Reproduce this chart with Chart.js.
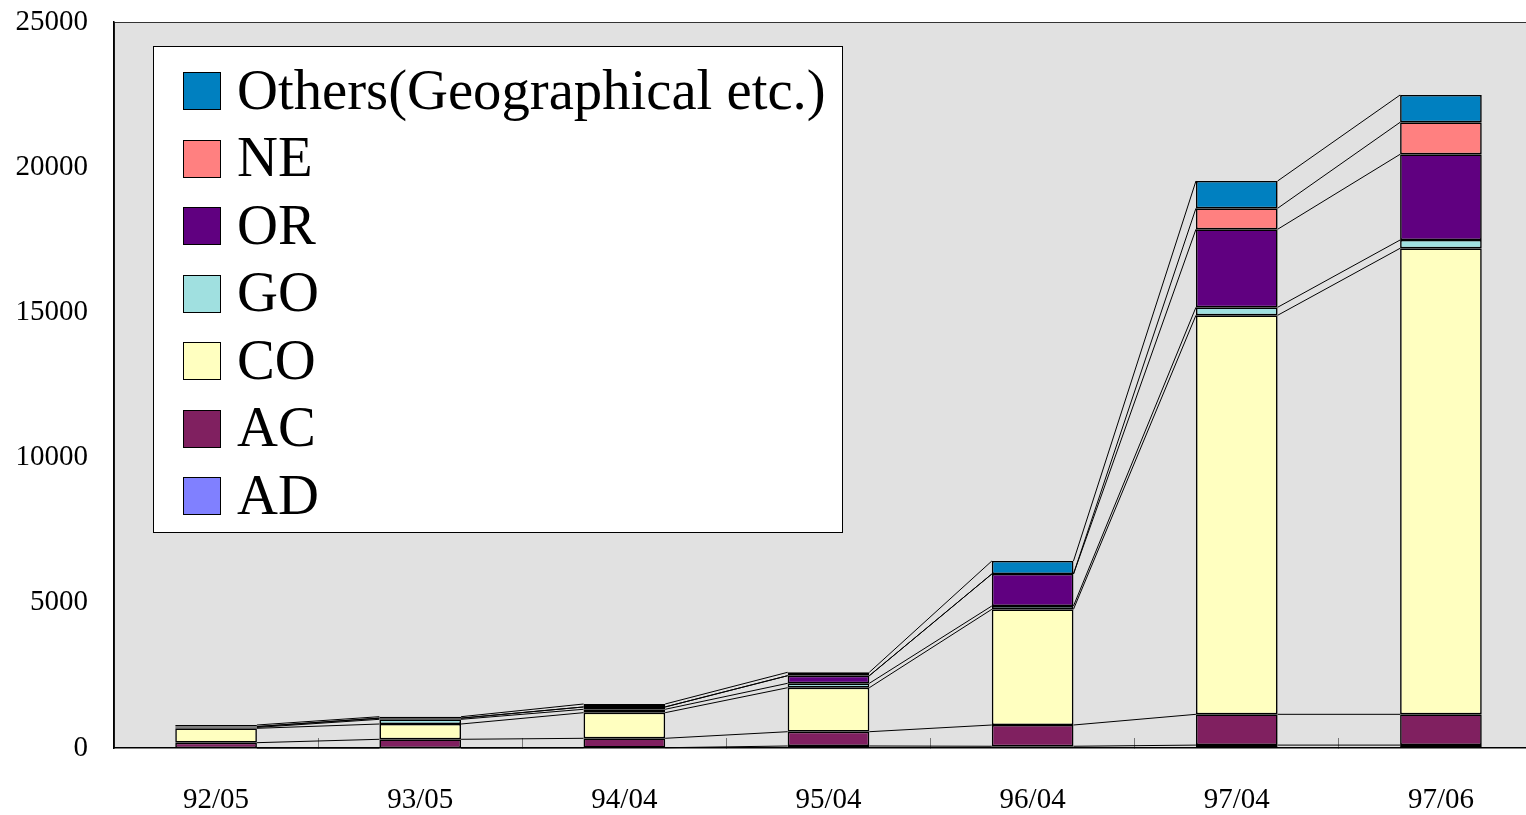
<!DOCTYPE html>
<html><head><meta charset="utf-8">
<script src="https://cdn.jsdelivr.net/npm/chart.js@4"></script>
<style>
html,body{margin:0;padding:0;overflow:hidden;background:#fff;width:1526px;height:815px}
#wrap{position:relative;width:1543px;height:815px}
#legend{position:absolute;left:153px;top:46px;width:688px;height:485px;background:#fff;border:1px solid #000;font-family:"Liberation Serif","Times New Roman",serif;font-size:56.7px;color:#000}
.row{position:absolute;left:29px;display:flex;align-items:center;height:60px;white-space:nowrap}
.sw{width:36px;height:36px;border:1px solid #000;margin-right:16px;flex:none}
</style></head>
<body><div id="wrap"><canvas id="c" width="1543" height="815"></canvas><div id="legend"></div></div>
<script>
const categories = ['92/05','93/05','94/04','95/04','96/04','97/04','97/06'];
const AD     = [0, 0, 10, 69, 60, 100, 100];
const AC     = [183, 300, 324, 492, 732, 1060, 1060];
const CO     = [495, 526, 882, 1515, 3984, 13740, 16047];
const GO     = [30, 162, 117, 152, 114, 276, 286];
const OR     = [30, 40, 80, 262, 1102, 2686, 2951];
const NE     = [0, 0, 0, 0, 0, 723, 1102];
const Others = [54, 50, 102, 117, 447, 940, 940];
const yTicks = [0, 5000, 10000, 15000, 20000, 25000];

const seriesNames  = ['AD','AC','CO','GO','OR','NE','Others(Geographical etc.)'];
const seriesData   = [AD, AC, CO, GO, OR, NE, Others];
const seriesColors = ['#8080ff','#802060','#ffffc0','#a0e0e0','#600080','#ff8080','#0080c0'];

const FONT = '"Liberation Serif","Times New Roman",serif';
Chart.defaults.color = '#000';

const plotBg = {
  id: 'plotBg',
  beforeDraw(chart) {
    const {ctx, chartArea: a} = chart;
    ctx.save();
    ctx.fillStyle = '#e1e1e1';
    ctx.fillRect(a.left, a.top, a.right - a.left, a.bottom - a.top);
    ctx.strokeStyle = '#333';
    ctx.lineWidth = 1;
    ctx.strokeRect(a.left + 0.5, a.top + 0.5, a.right - a.left - 1, a.bottom - a.top - 1);
    ctx.restore();
  }
};

const seriesLines = {
  id: 'seriesLines',
  afterDatasetsDraw(chart) {
    const ctx = chart.ctx;
    ctx.save();
    ctx.strokeStyle = '#000';
    ctx.lineWidth = 1;
    chart.data.datasets.forEach((ds, di) => {
      const meta = chart.getDatasetMeta(di);
      for (let i = 0; i < meta.data.length - 1; i++) {
        const a = meta.data[i], b = meta.data[i + 1];
        ctx.beginPath();
        ctx.moveTo(a.x + a.width / 2, a.y);
        ctx.lineTo(b.x - b.width / 2, b.y);
        ctx.stroke();
      }
    });
    ctx.restore();
  }
};

const chart = new Chart(document.getElementById('c'), {
  type: 'bar',
  data: {
    labels: categories,
    datasets: seriesNames.map((n, i) => ({
      label: n,
      data: seriesData[i],
      backgroundColor: seriesColors[i],
      borderColor: '#000',
      borderWidth: 1.6,
      borderSkipped: false,
      barPercentage: 0.4,
      categoryPercentage: 1.0
    }))
  },
  options: {
    responsive: false,
    animation: false,
    layout: {padding: {top: 22, left: 0, right: 0, bottom: 0}},
    plugins: {legend: {display: false}, tooltip: {enabled: false}},
    scales: {
      x: {
        stacked: true,
        offset: true,
        grid: {display: true, drawOnChartArea: false, drawTicks: true, tickLength: -10, color: '#777', offset: true},
        border: {display: true, color: '#000', width: 1.5},
        ticks: {font: {family: FONT, size: 29}, color: '#000', padding: 45, maxRotation: 0},
        afterFit(s) { s.height = 67; s.paddingLeft = 0; s.paddingRight = 0; }
      },
      y: {
        stacked: true,
        min: 0, max: 25000,
        grid: {display: false, drawTicks: false},
        border: {display: true, color: '#000', width: 1.5},
        ticks: {font: {family: FONT, size: 29}, color: '#000', padding: 26, callback: v => String(v)},
        afterBuildTicks(s) { s.ticks = yTicks.map(v => ({value: v})); },
        afterFit(s) { s.width = 114; s.paddingTop = 0; s.paddingBottom = 0; }
      }
    }
  },
  plugins: [plotBg, seriesLines]
});

const leg = document.getElementById('legend');
chart.data.datasets.slice().reverse().forEach((ds, i) => {
  const row = document.createElement('div');
  row.className = 'row';
  row.style.top = (14 + i * 67.5) + 'px';
  const sw = document.createElement('div');
  sw.className = 'sw';
  sw.style.background = ds.backgroundColor;
  const tx = document.createElement('span');
  tx.textContent = ds.label;
  tx.style.position = 'relative';
  tx.style.top = '-2px';
  row.appendChild(sw); row.appendChild(tx);
  leg.appendChild(row);
});
</script></body></html>
